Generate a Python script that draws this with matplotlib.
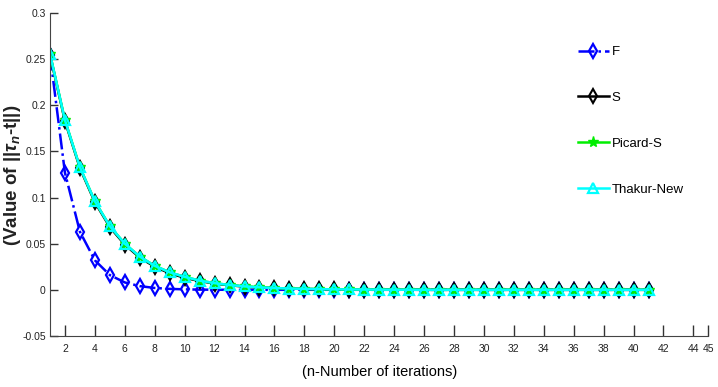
import matplotlib
matplotlib.use("Agg")
import matplotlib.pyplot as plt

plt.rcParams['font.family'] = ['Liberation Sans', 'DejaVu Sans']
plt.rcParams['mathtext.fontset'] = 'custom'
plt.rcParams['mathtext.rm'] = 'Liberation Sans:bold'
plt.rcParams['mathtext.it'] = 'Liberation Sans:italic:bold'

iterations = list(range(1, 42))
F_vals = [0.255, 0.127, 0.063, 0.032, 0.016, 0.008, 0.004, 0.002, 0.001, 0.0005,
          0.0002, 0.0001, 0.0, 0.0, 0.0, 0.0, 0.0, 0.0, 0.0, 0.0,
          0.0, 0.0, 0.0, 0.0, 0.0, 0.0, 0.0, 0.0, 0.0, 0.0,
          0.0, 0.0, 0.0, 0.0, 0.0, 0.0, 0.0, 0.0, 0.0, 0.0, 0.0]
S_vals = [0.255, 0.183, 0.132, 0.095, 0.068, 0.049, 0.035, 0.025, 0.018, 0.013,
          0.0095, 0.0068, 0.0049, 0.0035, 0.0025, 0.0018, 0.0013, 0.0009, 0.0007, 0.0005,
          0.0003, 0.0002, 0.0002, 0.0001, 0.0001, 0.0, 0.0, 0.0, 0.0, 0.0,
          0.0, 0.0, 0.0, 0.0, 0.0, 0.0, 0.0, 0.0, 0.0, 0.0, 0.0]
PicardS_vals = [0.256, 0.184, 0.133, 0.096, 0.069, 0.050, 0.036, 0.026, 0.019, 0.014,
                0.010, 0.0072, 0.0052, 0.0037, 0.0027, 0.0019, 0.0014, 0.0010, 0.0007, 0.0005,
                0.0004, 0.0003, 0.0002, 0.0001, 0.0001, 0.0, 0.0, 0.0, 0.0, 0.0,
                0.0, 0.0, 0.0, 0.0, 0.0, 0.0, 0.0, 0.0, 0.0, 0.0, 0.0]
Thakur_vals = [0.256, 0.184, 0.133, 0.096, 0.069, 0.050, 0.036, 0.026, 0.019, 0.014,
               0.010, 0.0072, 0.0052, 0.0037, 0.0027, 0.0019, 0.0014, 0.0010, 0.0007, 0.0005,
               0.0004, 0.0003, 0.0002, 0.0001, 0.0001, 0.0, 0.0, 0.0, 0.0, 0.0,
               0.0, 0.0, 0.0, 0.0, 0.0, 0.0, 0.0, 0.0, 0.0, 0.0, 0.0]
series_labels = ["F", "S", "Picard-S", "Thakur-New"]
xticks = [2, 4, 6, 8, 10, 12, 14, 16, 18, 20, 22, 24, 26, 28, 30, 32, 34, 36, 38, 40, 42, 44, 45]
yticks = [-0.05, 0, 0.05, 0.1, 0.15, 0.2, 0.25, 0.3]
ytick_labels = ["-0.05", "0", "0.05", "0.1", "0.15", "0.2", "0.25", "0.3"]

fig = plt.figure(figsize=(7.18, 3.87), dpi=100)
ax = fig.add_axes([0.0696, 0.132, 0.917, 0.834])

ax.plot(iterations, F_vals, linestyle='-.', color='#0000ff', lw=1.8, marker='d', ms=7.5,
        mfc='none', mec='#0000ff', mew=1.6, label=series_labels[0])
ax.plot(iterations, S_vals, linestyle='-', color='black', lw=1.8, marker='d', ms=7,
        mfc='none', mec='black', mew=1.5, label=series_labels[1])
ax.plot(iterations, PicardS_vals, linestyle='-', color='#00ee00', lw=1.8, marker='*', ms=8,
        mfc='#00ee00', mec='#00ee00', mew=1.0, label=series_labels[2])
ax.plot(iterations, Thakur_vals, linestyle='-', color='#00ffff', lw=1.8, marker='^', ms=7.5,
        mfc='none', mec='#00ffff', mew=1.6, label=series_labels[3])

ax.set_xlim(1, 45)
ax.set_ylim(-0.05, 0.3)
ax.set_xticks(xticks)
ax.set_xticklabels([str(t) for t in xticks])
ax.set_yticks(yticks)
ax.set_yticklabels(ytick_labels)
ax.tick_params(axis='x', direction='in', length=8, width=1, colors='#333333', labelsize=7.5, pad=6)
ax.tick_params(axis='y', direction='in', length=6, width=1, colors='#333333', labelsize=7.5, pad=3)
for lab in ax.get_xticklabels() + ax.get_yticklabels():
    lab.set_color('#222222')
ax.spines['top'].set_visible(False)
ax.spines['right'].set_visible(False)
ax.spines['left'].set_color('#444444')
ax.spines['bottom'].set_color('#444444')

ax.set_xlabel("(n-Number of iterations)", fontsize=10.5, labelpad=8)
fig.text(13 / 718, 1 - 175 / 387, r"(Value of $||\tau_n$-t||)", rotation=90,
         fontsize=13.5, fontweight='bold', ha='center', va='center', color='#222222')

leg = fig.legend(loc='upper left', bbox_to_anchor=(0.797, 0.895), frameon=False,
                 fontsize=9.5, labelspacing=2.55, handlelength=2.4, handletextpad=0.2,
                 borderaxespad=0)

fig.savefig("out.png", dpi=100)
